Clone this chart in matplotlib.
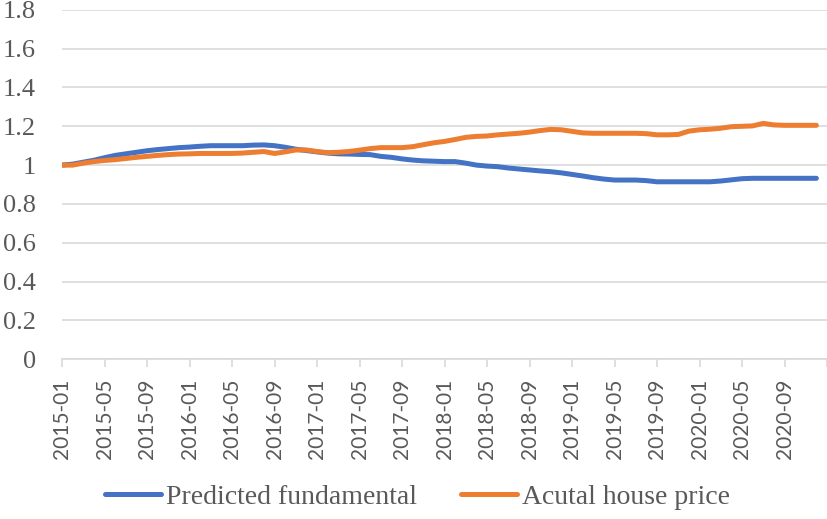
import matplotlib
matplotlib.use("Agg")
import matplotlib.pyplot as plt

# monthly data, 2015-01 .. 2020-12
months = [f"{y}-{m:02d}" for y in range(2015, 2021) for m in range(1, 13)]

predicted = [1.000, 1.005, 1.015, 1.025, 1.038, 1.050, 1.058, 1.066, 1.074, 1.080,
             1.085, 1.090, 1.093, 1.097, 1.100, 1.100, 1.100, 1.100, 1.103, 1.104,
             1.100, 1.092, 1.082, 1.075, 1.068, 1.062, 1.058, 1.057, 1.055, 1.054,
             1.045, 1.040, 1.032, 1.026, 1.022, 1.020, 1.018, 1.018, 1.010, 1.000,
             0.995, 0.992, 0.985, 0.980, 0.975, 0.970, 0.966, 0.960, 0.952, 0.944,
             0.935, 0.928, 0.923, 0.923, 0.923, 0.920, 0.914, 0.914, 0.914, 0.914,
             0.914, 0.914, 0.918, 0.924, 0.930, 0.932, 0.932, 0.932, 0.932, 0.932,
             0.932, 0.932]

actual = [1.000, 1.000, 1.010, 1.018, 1.024, 1.028, 1.034, 1.040, 1.045, 1.050,
          1.054, 1.057, 1.058, 1.060, 1.060, 1.060, 1.060, 1.062, 1.066, 1.070,
          1.060, 1.068, 1.078, 1.078, 1.070, 1.064, 1.066, 1.070, 1.077, 1.085,
          1.090, 1.090, 1.090, 1.095, 1.105, 1.115, 1.122, 1.132, 1.143, 1.148,
          1.150, 1.156, 1.160, 1.164, 1.170, 1.178, 1.184, 1.182, 1.174, 1.166,
          1.164, 1.164, 1.164, 1.164, 1.164, 1.162, 1.156, 1.156, 1.158, 1.175,
          1.182, 1.185, 1.190, 1.198, 1.200, 1.202, 1.215, 1.207, 1.205, 1.205,
          1.205, 1.205]

yticks = [0, 0.2, 0.4, 0.6, 0.8, 1, 1.2, 1.4, 1.6, 1.8]
ylabels = ["0", "0.2", "0.4", "0.6", "0.8", "1", "1.2", "1.4", "1.6", "1.8"]

grey = "#595959"
fig = plt.figure(figsize=(8.27, 5.19), dpi=100)
ax = fig.add_axes([0.075, 0.308, 0.925, 0.673])

x = list(range(len(months)))
ax.plot(x, predicted, color="#4472C4", lw=3.6, label="Predicted fundamental",
        solid_capstyle="round", zorder=3)
ax.plot(x, actual, color="#ED7D31", lw=3.6, label="Acutal house price",
        solid_capstyle="round", zorder=4)

ax.set_ylim(0, 1.8)
ax.set_xlim(0, 72)
ax.set_yticks(yticks)
ax.set_yticklabels(ylabels, fontfamily="Liberation Serif", fontsize=19, color=grey)
ax.tick_params(axis="y", length=0, pad=19)
ax.grid(axis="y", color="#d9d9d9", lw=1.2)
ax.set_axisbelow(True)

tick_pos = list(range(0, 73, 4))
ax.set_xticks(tick_pos)
ax.set_xticklabels([months[i] if i < len(months) else "" for i in tick_pos],
                   rotation=90, fontfamily="Lato", fontsize=15, color=grey)
ax.tick_params(axis="x", length=6, color="#d9d9d9", width=1.2, pad=8)

for s in ["top", "right", "left"]:
    ax.spines[s].set_visible(False)
ax.spines["bottom"].set_color("#d9d9d9")
ax.spines["bottom"].set_linewidth(1.2)

fig.legend(loc="center", bbox_to_anchor=(0.505, 0.042), ncol=2, frameon=False,
           prop={"family": "Liberation Serif", "size": 20}, labelcolor=grey,
           handlelength=2.0, handletextpad=0.18, columnspacing=1.6)

fig.savefig("out.png", dpi=100)
